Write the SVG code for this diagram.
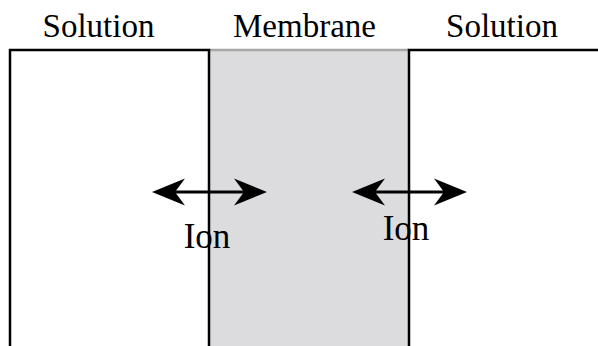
<svg xmlns="http://www.w3.org/2000/svg" width="598" height="346" viewBox="0 0 598 346">
<style>
.lbl{font-family:"Liberation Serif","Times New Roman",serif;fill:#000;text-anchor:middle}
.hdr{font-size:33px}
.ion{font-size:35px}
.wall{stroke:#000;stroke-width:2.5;fill:none}
.conn{stroke:#000;stroke-width:3;fill:none}
</style>
<defs>
<marker id="ah" markerUnits="userSpaceOnUse" markerWidth="40" markerHeight="30" viewBox="-40 -15 40 30" refX="-22" refY="0" orient="auto-start-reverse">
<path d="M0,0 L-33,-13.5 L-23,0 L-33,13.5 Z" fill="#000"/>
</marker>
</defs>
<rect width="598" height="346" fill="#fff"/>
<g id="membrane">
<rect x="209" y="50" width="200" height="300" fill="#dcdcde"/>
<line x1="209" y1="50" x2="409" y2="50" stroke="#a8a8a8" stroke-width="2.5"/>
<text class="lbl hdr" x="304.5" y="37">Membrane</text>
</g>
<g id="solution-left">
<path class="wall" d="M10,350 V50 H209 V350"/>
<text class="lbl hdr" x="98.5" y="37">Solution</text>
</g>
<g id="solution-right">
<path class="wall" d="M409,350 V50 H600"/>
<text class="lbl hdr" x="502" y="37">Solution</text>
</g>
<g id="connectors">
<line class="conn" x1="174" y1="192" x2="245" y2="192" marker-start="url(#ah)" marker-end="url(#ah)"/>
<line class="conn" x1="374" y1="192" x2="445" y2="192" marker-start="url(#ah)" marker-end="url(#ah)"/>
</g>
<g id="ion-left">
<text class="lbl ion" x="207" y="248">Ion</text>
</g>
<g id="ion-right">
<text class="lbl ion" x="406" y="240">Ion</text>
</g>
</svg>
